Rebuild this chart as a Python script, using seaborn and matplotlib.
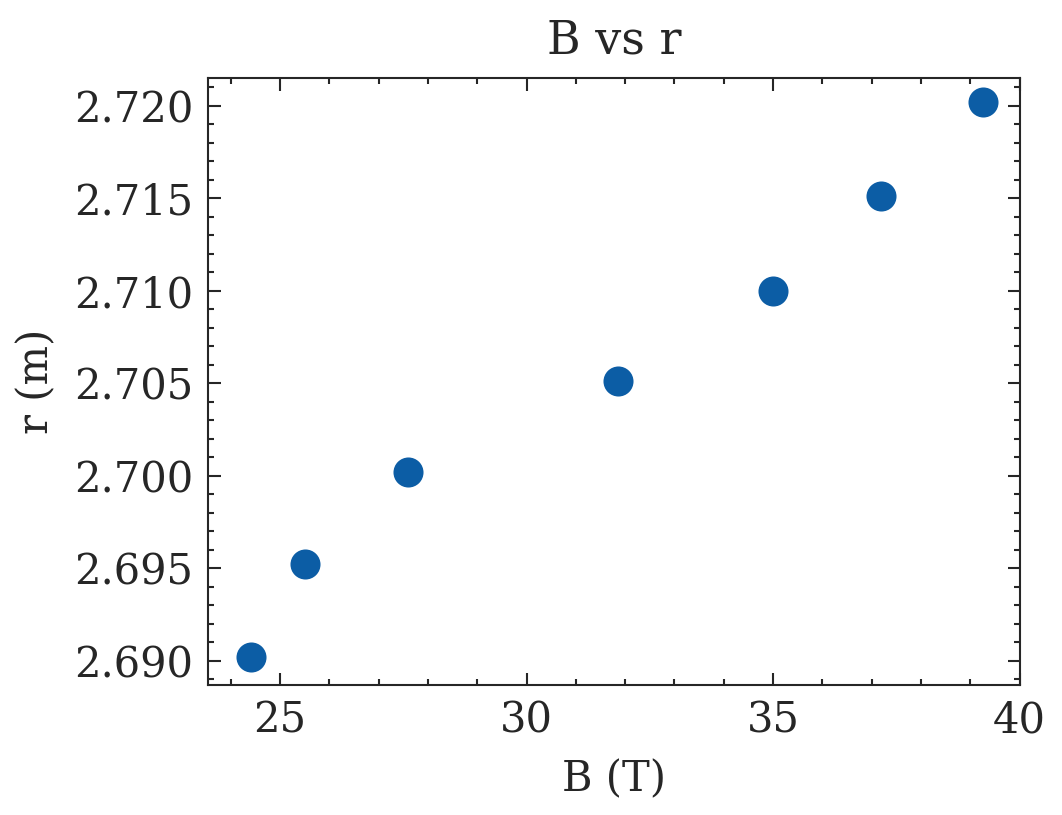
import matplotlib
matplotlib.use("Agg")
import matplotlib.pyplot as plt
import seaborn as sns
from matplotlib.ticker import AutoMinorLocator

B = [24.4, 25.5, 27.6, 31.85, 35.0, 37.2, 39.25]
r = [2.6902, 2.6952, 2.7002, 2.7051, 2.7100, 2.7151, 2.7202]

sns.set_style("ticks")
plt.rcParams['font.family'] = ['DejaVu Serif']
plt.rcParams['font.size'] = 10

fig, ax = plt.subplots(figsize=(3.54, 2.717), dpi=300)
sns.scatterplot(x=B, y=r, ax=ax, color="#0C5DA5", s=45, edgecolor="#0C5DA5", linewidth=0.5)
ax.set_xlim(23.54, 40)
ax.set_ylim(2.6887, 2.7215)
ax.set_xticks([25, 30, 35, 40])
ax.set_yticks([2.690, 2.695, 2.700, 2.705, 2.710, 2.715, 2.720])
ax.set_yticklabels([f"{v:.3f}" for v in ax.get_yticks()])
ax.xaxis.set_minor_locator(AutoMinorLocator(5))
ax.yaxis.set_minor_locator(AutoMinorLocator(5))
ax.tick_params(which="both", direction="in", top=True, right=True, width=0.5)
ax.tick_params(which="major", length=3)
ax.tick_params(which="minor", length=1.5)
for s in ax.spines.values():
    s.set_linewidth(0.5)
ax.set_title("B vs r", fontsize=11)
ax.set_xlabel("B (T)")
ax.set_ylabel("r (m)")
fig.subplots_adjust(left=0.196, right=0.96, top=0.904, bottom=0.16)
fig.savefig("out.png", dpi=300)
